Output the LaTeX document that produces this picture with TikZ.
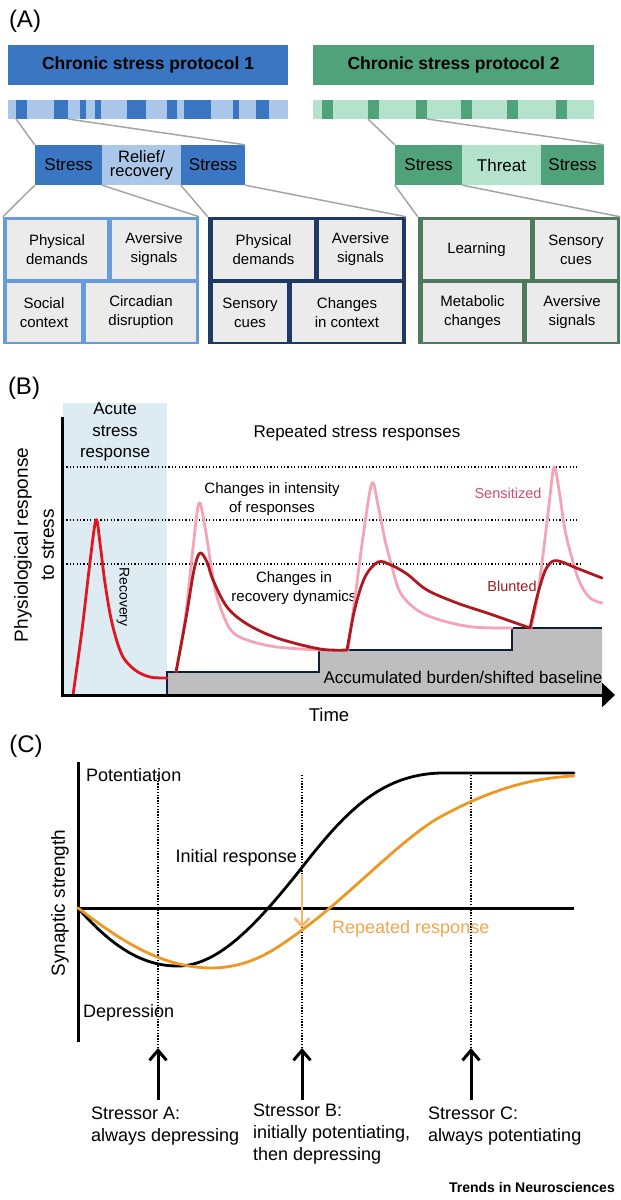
\documentclass[tikz,border=0pt]{standalone}
\usepackage{fontspec}
\setmainfont{Liberation Sans}
\usetikzlibrary{arrows.meta}

\definecolor{pblue}{RGB}{58,118,194}
\definecolor{pbluelt}{RGB}{170,199,234}
\definecolor{pgreen}{RGB}{80,162,122}
\definecolor{pgreenlt}{RGB}{180,226,204}
\definecolor{frameA}{RGB}{104,155,218}
\definecolor{frameB}{RGB}{30,58,100}
\definecolor{frameC}{RGB}{80,122,94}
\definecolor{cellgray}{RGB}{235,235,235}
\definecolor{linkgray}{RGB}{165,165,165}
\definecolor{acutebg}{RGB}{220,236,242}
\definecolor{acutered}{RGB}{226,22,32}
\definecolor{senspink}{RGB}{244,164,180}
\definecolor{bluntred}{RGB}{176,24,32}
\definecolor{senstext}{RGB}{206,78,108}
\definecolor{blunttext}{RGB}{160,26,36}
\definecolor{burdengray}{RGB}{190,190,190}
\definecolor{burdenline}{RGB}{16,30,56}
\definecolor{reporange}{RGB}{238,152,36}
\definecolor{arroworange}{RGB}{246,182,108}
\definecolor{reptext}{RGB}{242,166,76}

\begin{document}
\begin{tikzpicture}[x=1pt,y=-1pt,
  every node/.style={inner sep=0pt},
  lbl/.style={font=\fontsize{24}{26}\selectfont},
  hdr/.style={minimum height=40pt,font=\bfseries\fontsize{17.5}{20}\selectfont},
  zcell/.style={minimum height=40pt,align=center,font=\fontsize{17}{14.5}\selectfont},
  frame/.style={minimum height=127pt},
  dcell/.style={fill=cellgray,minimum height=59pt,align=center,font=\fontsize{15}{19}\selectfont},
  link/.style={draw=linkgray,line width=1.5pt},
  txt/.style={align=center,font=\fontsize{17}{21.5}\selectfont},
  small/.style={align=center,font=\fontsize{15}{18.5}\selectfont},
  guide/.style={dash pattern=on 1.1pt off 2.3pt,line width=1.2pt},
  vguide/.style={dash pattern=on 1.4pt off 1.4pt,line width=1.5pt},
  curve/.style={line width=2.8pt,line join=round,line cap=round},
  axis/.style={line width=3pt}]
\useasboundingbox (0,0) rectangle (621,1200);

\node[lbl] (labA) at (25,21) {(A)};
\node[hdr,fill=pblue,minimum width=280pt] (hdr1) at (148,65) {Chronic stress protocol 1};
\node[hdr,fill=pgreen,minimum width=281pt] (hdr2) at (453.5,65) {Chronic stress protocol 2};
\fill[pbluelt] (8,100) rectangle (288,119);
\foreach \a/\b in {16/27,54/68,80/86,95/101,127/146,167/177,184/211,233/239,256/269}
  \fill[pblue] (\a,100) rectangle (\b,119);
\fill[pgreenlt] (313,100) rectangle (594,119);
\foreach \a/\b in {322/333,368/379,416/427,461/472,507/518,556/567}
  \fill[pgreen] (\a,100) rectangle (\b,119);
\coordinate (b1) at (16,119);
\coordinate (b2) at (68,119);
\coordinate (g1) at (368,119);
\coordinate (g2) at (427,119);

\node[zcell,fill=pblue,minimum width=67pt] (zs1) at (68.5,165) {Stress};
\node[zcell,fill=pbluelt,minimum width=79pt,font=\fontsize{16.5}{14.5}\selectfont] (zr) at (141.5,165) {Relief/\\recovery};
\node[zcell,fill=pblue,minimum width=64pt] (zs2) at (213,165) {Stress};
\node[zcell,fill=pgreen,minimum width=67pt] (zs3) at (428.5,165) {Stress};
\node[zcell,fill=pgreenlt,minimum width=79pt] (zt) at (501.5,165) {Threat};
\node[zcell,fill=pgreen,minimum width=63pt] (zs4) at (572.5,165) {Stress};

\node[frame,fill=frameA,minimum width=196pt] (fA) at (101,280.5) {};
\node[frame,fill=frameB,minimum width=198pt] (fB) at (307,280.5) {};
\node[frame,fill=frameC,minimum width=202pt] (fC) at (519,280.5) {};

\draw[link] (b1) -- (zs1.north west);
\draw[link] (b2) -- (zs2.north east);
\draw[link] (g1) -- (zs3.north west);
\draw[link] (g2) -- (zs4.north east);
\draw[link] (zs1.south west) -- (fA.north west);
\draw[link] (zs1.south east) -- (fA.north east);
\draw[link] (zs2.south west) -- (fB.north west);
\draw[link] (zs2.south east) -- (fB.north east);
\draw[link] (zs3.south west) -- (fC.north west);
\draw[link] (zs3.south east) -- (fC.north east);

\node[dcell,minimum width=100pt] (a1) at (57,249.5) {Physical\\demands};
\node[dcell,minimum width=84pt] (a2) at (154,249.5) {Aversive\\signals};
\node[dcell,minimum width=74pt] (a3) at (44,312.5) {Social\\context};
\node[dcell,minimum width=110pt] (a4) at (141,312.5) {Circadian\\disruption};
\node[dcell,minimum width=101pt] (b1c) at (263.5,249.5) {Physical\\demands};
\node[dcell,minimum width=83pt] (b2c) at (360.5,249.5) {Aversive\\signals};
\node[dcell,minimum width=74pt] (b3c) at (250,312.5) {Sensory\\cues};
\node[dcell,minimum width=110pt] (b4c) at (347,312.5) {Changes\\in context};
\node[dcell,minimum width=107pt] (c1) at (476.5,249.5) {Learning};
\node[dcell,minimum width=82pt] (c2) at (576,249.5) {Sensory\\cues};
\node[dcell,minimum width=99pt] (c3) at (472.5,312.5) {Metabolic\\changes};
\node[dcell,minimum width=90pt] (c4) at (572,312.5) {Aversive\\signals};

\node[lbl] (labB) at (24,388) {(B)};
\fill[acutebg] (63,403) rectangle (167,694);
\fill[burdengray] (167,694) -- (167,672) -- (319,672) -- (319,650) -- (512,650)
  -- (512,628) -- (602,628) -- (602,694) -- cycle;
\draw[burdenline,line width=2.4pt] (167,694) -- (167,672) -- (319,672) -- (319,650)
  -- (512,650) -- (512,628) -- (602,628);
\draw[guide] (63,467) -- (577,467);
\draw[guide] (63,520) -- (577,520);
\draw[guide] (63,564) -- (582,564);

\node[txt] (acute) at (115,432) {Acute\\stress\\response};
\node[txt] (repeated) at (357,433) {Repeated stress responses};
\node[small] (intensity) at (272,499) {Changes in intensity\\of responses};
\node[small] (dynamics) at (294,588) {Changes in\\recovery dynamics};
\node[small,text=senstext,font=\fontsize{14.5}{17}\selectfont] (sens) at (508,493) {Sensitized};
\node[small,text=blunttext,font=\fontsize{14.5}{17}\selectfont] (blunt) at (512,586) {Blunted};
\node[font=\fontsize{14}{16}\selectfont,rotate=-90] (recov) at (123,597) {Recovery};
\node[txt] (burden) at (463,677) {Accumulated burden/shifted baseline};

\draw[curve,acutered] plot[smooth,tension=0.55] coordinates {(73,695) (82,630) (90,562) (96,520)
  (100,543) (105,583) (112,623) (122,655) (135,670) (150,677) (167,678)};
\draw[curve,senspink] plot[smooth,tension=0.55] coordinates {(176,672) (185,620) (193,548) (199,503)
  (205,527) (211,565) (217,597) (230,629) (247,640) (277,647) (320,650)};
\draw[curve,senspink] plot[smooth,tension=0.55] coordinates {(348,650) (356,590) (364,530) (372,483)
  (378,505) (385,540) (391,563) (400,592) (417,610) (440,620) (473,627) (512,628)};
\draw[curve,senspink] plot[smooth,tension=0.55] coordinates {(531,628) (537,600) (543,555) (549,505)
  (554,467) (559,490) (565,530) (573,562) (580,583) (590,598) (602,603)};
\draw[curve,bluntred] plot[smooth,tension=0.55] coordinates {(176,672) (186,618) (194,570) (200,553)
  (207,562) (213,580) (227,607) (247,624) (277,638) (320,649) (347,650)};
\draw[curve,bluntred] plot[smooth,tension=0.55] coordinates {(347,650) (355,608) (365,577) (378,562)
  (391,565) (407,574) (427,590) (457,603) (490,614) (530,628)};
\draw[curve,bluntred] plot[smooth,tension=0.55] coordinates {(530,628) (537,597) (545,571) (553,561)
  (562,562) (574,567) (602,578)};

\coordinate (bY) at (62,417);
\coordinate (bO) at (62,695);
\coordinate (bX) at (615,695);
\draw[axis,-{Triangle[length=13pt,width=24pt]}] (bY) -- (bO) -- (bX);
\node[font=\fontsize{18.5}{22}\selectfont] (time) at (329,715) {Time};
\node[align=center,rotate=90,font=\fontsize{19}{26}\selectfont] (ylabB) at (34,545)
  {Physiological response\\to stress};

\node[lbl] (labC) at (26,746) {(C)};
\foreach \x/\n in {158/A,302/B,471/C}{
  \coordinate (t\n) at (\x,775);
  \coordinate (h\n) at (\x,1048);
  \coordinate (f\n) at (\x,1100);
  \draw[vguide] (t\n) -- (h\n);
  \draw[axis,-{Straight Barb[length=10pt,width=17pt]}] (f\n) -- (h\n);
}
\coordinate (cY) at (78,762);
\coordinate (cB) at (78,1042);
\coordinate (cO) at (78,908);
\coordinate (cE) at (574,908);
\draw[axis] (cY) -- (cB);
\draw[axis] (cO) -- (cE);

\draw[curve,black] (cO) .. controls (115,950) and (145,966) .. (178,966)
  .. controls (220,966) and (260,920) .. (300,870)
  .. controls (345,812) and (380,775) .. (440,773) -- (574,773);
\draw[curve,reporange] (cO) .. controls (120,940) and (160,967) .. (210,968)
  .. controls (250,968) and (275,950) .. (302,930)
  .. controls (350,895) and (400,840) .. (440,817)
  .. controls (490,790) and (530,778) .. (574,776);
\coordinate (oTop) at (302,875);
\coordinate (oBot) at (302,928);
\draw[arroworange,line width=2.6pt,-{Straight Barb[length=8pt,width=15pt]}] (oTop) -- (oBot);

\node[font=\fontsize{18}{22}\selectfont,anchor=west] (pot) at (86,775) {Potentiation};
\node[font=\fontsize{18}{22}\selectfont,anchor=west] (dep) at (83,1013) {Depression};
\node[font=\fontsize{18}{22}\selectfont,anchor=east] (init) at (297,858) {Initial response};
\node[font=\fontsize{18}{22}\selectfont,anchor=west,text=reptext] (rep) at (332,929) {Repeated response};
\node[font=\fontsize{19}{22}\selectfont,rotate=90] (ylabC) at (60,903) {Synaptic strength};

\node[align=left,anchor=west,font=\fontsize{18}{22}\selectfont] (sA) at (91,1126)
  {Stressor A:\\always depressing};
\node[align=left,anchor=west,font=\fontsize{18}{22}\selectfont] (sB) at (253,1134.5)
  {Stressor B:\\initially potentiating,\\then depressing};
\node[align=left,anchor=west,font=\fontsize{18}{22}\selectfont] (sC) at (428,1126)
  {Stressor C:\\always potentiating};
\node[anchor=east,font=\bfseries\fontsize{14}{16}\selectfont] (journal) at (615,1187)
  {Trends in Neurosciences};
\end{tikzpicture}
\end{document}
